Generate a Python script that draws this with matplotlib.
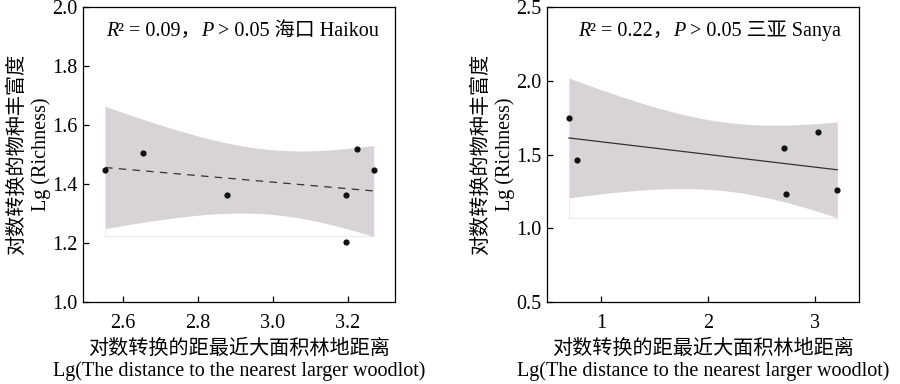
import numpy as np
import matplotlib
matplotlib.use("Agg")
import matplotlib.pyplot as plt
from matplotlib.offsetbox import TextArea, HPacker, AnnotationBbox

plt.rcParams['font.family'] = ['Liberation Serif', 'Noto Sans CJK SC']
FS = 14.5

# ---- data ----
haikou_x = [2.552, 2.654, 2.877, 3.196, 3.196, 3.225, 3.269]
haikou_y = [1.447, 1.506, 1.362, 1.362, 1.204, 1.518, 1.447]
sanya_x = [0.701, 0.779, 2.710, 2.729, 3.025, 3.208]
sanya_y = [1.750, 1.464, 1.546, 1.233, 1.652, 1.258]

haikou_r2, sanya_r2 = "0.09", "0.22"
haikou_title, sanya_title = "海口 Haikou", "三亚 Sanya"
t_crit_haikou, t_crit_sanya = 2.5706, 2.7764   # 95% t, df = n-2

ylab = "对数转换的物种丰富度\nLg (Richness)"
xlab = "对数转换的距最近大面积林地距离\nLg(The distance to the nearest larger woodlot)"

band_color = '#d7d3d6'
line_color = '#333333'


def reg_panel(ax, x, y, tcrit, ls):
    x = np.asarray(x); y = np.asarray(y)
    n = len(x)
    b, a = np.polyfit(x, y, 1)
    xs = np.linspace(x.min(), x.max(), 200)
    yfit = a + b * xs
    resid = y - (a + b * x)
    s = np.sqrt(np.sum(resid ** 2) / (n - 2))
    sxx = np.sum((x - x.mean()) ** 2)
    se = s * np.sqrt(1.0 / n + (xs - x.mean()) ** 2 / sxx)
    lo, hi = yfit - tcrit * se, yfit + tcrit * se
    m = lo.min()
    ax.plot([xs[0], xs[-1]], [m, m], color='#ebebeb', lw=0.8, zorder=1)
    ax.plot([xs[0], xs[0]], [m, lo[0]], color='#ebebeb', lw=0.8, zorder=1)
    ax.plot([xs[-1], xs[-1]], [m, lo[-1]], color='#ebebeb', lw=0.8, zorder=1)
    ax.fill_between(xs, lo, hi, color=band_color, lw=0, zorder=2)
    ax.plot(xs, yfit, color=line_color, lw=0.9, ls=ls, zorder=3,
            dashes=(6, 5) if ls == '--' else (None, None))
    ax.scatter(x, y, s=20, color='#111111', zorder=4, lw=0)


def annot(ax, r2, title, xfrac):
    serif = ['Liberation Serif', 'Noto Sans CJK SC']
    parts = [
        TextArea("R", textprops=dict(family=serif, style='italic', size=FS)),
        TextArea("² = " + r2 + "，", textprops=dict(family=serif, size=FS)),
        TextArea("P", textprops=dict(family=serif, style='italic', size=FS)),
        TextArea(" > 0.05 " + title, textprops=dict(family=serif, size=FS)),
    ]
    box = HPacker(children=parts, align='baseline', pad=0, sep=0)
    ab = AnnotationBbox(box, (xfrac, 0.919), xycoords='axes fraction',
                        box_alignment=(0.5, 0.5), frameon=False)
    ax.add_artist(ab)


fig = plt.figure(figsize=(9, 3.84), dpi=100)
ax1 = fig.add_axes([0.0926, 0.2143, 0.4389 - 0.0926, 0.981 - 0.2143])
ax2 = fig.add_axes([0.608, 0.2143, 0.9548 - 0.608, 0.981 - 0.2143])

reg_panel(ax1, haikou_x, haikou_y, t_crit_haikou, '--')
reg_panel(ax2, sanya_x, sanya_y, t_crit_sanya, '-')

ax1.set_xlim(2.494, 3.326)
ax1.set_ylim(1.0, 2.0)
ax1.set_xticks([2.6, 2.8, 3.0, 3.2])
ax1.set_yticks([1.0, 1.2, 1.4, 1.6, 1.8, 2.0])

ax2.set_xlim(0.498, 3.414)
ax2.set_ylim(0.5, 2.5)
ax2.set_xticks([1, 2, 3])
ax2.set_yticks([0.5, 1.0, 1.5, 2.0, 2.5])

annot(ax1, haikou_r2, haikou_title, 0.511)
annot(ax2, sanya_r2, sanya_title, 0.52)

for ax in (ax1, ax2):
    ax.xaxis.set_major_formatter(matplotlib.ticker.FormatStrFormatter('%g' if ax is ax2 else '%.1f'))
    ax.yaxis.set_major_formatter(matplotlib.ticker.FormatStrFormatter('%.1f'))
    ax.tick_params(direction='in', length=4, width=0.9, labelsize=FS)
    ax.tick_params(axis='x', pad=9)
    ax.tick_params(axis='y', pad=4)
    for sp in ax.spines.values():
        sp.set_linewidth(0.9)
        sp.set_color('black')
    ax.set_ylabel(ylab, fontsize=FS, linespacing=1.3, labelpad=1)
    ax.set_xlabel(xlab, fontsize=FS, linespacing=1.15, labelpad=5)

fig.savefig("out.png", dpi=100)
